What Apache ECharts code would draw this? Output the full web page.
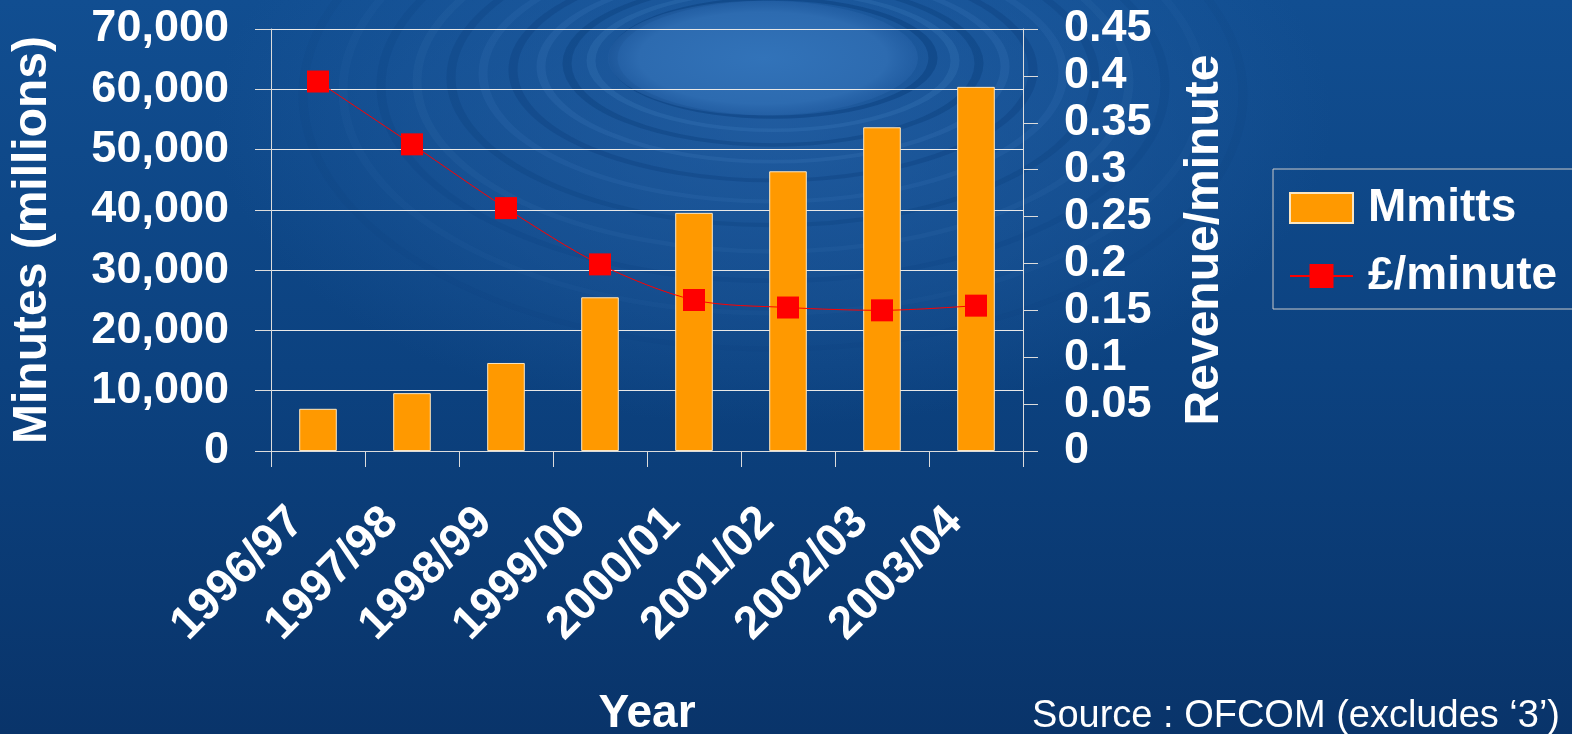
<!DOCTYPE html>
<html>
<head>
<meta charset="utf-8">
<title>Mobile minutes and revenue per minute</title>
<script src="https://cdn.jsdelivr.net/npm/echarts@6/dist/echarts.min.js"></script>
<style>
  html, body { margin: 0; padding: 0; background: #0c3e77; }
  #chart { width: 1572px; height: 734px; }
</style>
</head>
<body>
<div id="chart"></div>
<script>
// Financial years shown on the category axis
const years = ['1996/97', '1997/98', '1998/99', '1999/00', '2000/01', '2001/02', '2002/03', '2003/04'];
// Mobile minutes carried (millions)
const minutes = [7000, 9600, 14600, 25500, 39500, 46400, 53700, 60400];
// Average revenue per minute (£)
const pricePerMinute = [0.394, 0.327, 0.259, 0.199, 0.161, 0.153, 0.150, 0.155];
// Axis ranges
const minutesAxis = { min: 0, max: 70000, interval: 10000 };
const priceAxis = { min: 0, max: 0.45, interval: 0.05 };

const FONT = '"Liberation Sans", Arial, Helvetica, sans-serif';
const WHITE = '#ffffff';
const LINE_GREY = '#dcdcdc';

// Water-ripple backdrop: concentric flattened rings around a bright centre
const rippleCx = 773, rippleCy = 58;
const ringRadii = [160, 182, 206, 232, 260, 290, 322, 356, 392, 430, 470];
const backdrop = [
  {
    type: 'rect', z: -30, silent: true,
    shape: { x: 0, y: 0, width: 1572, height: 734 },
    style: {
      fill: new echarts.graphic.LinearGradient(0, 0, 0, 1, [
        { offset: 0, color: '#114e91' },
        { offset: 0.5, color: '#0c4280' },
        { offset: 1, color: '#09346a' }
      ])
    }
  },
  {
    type: 'circle', z: -29, silent: true,
    shape: { cx: 0, cy: 0, r: 560 },
    x: rippleCx, y: rippleCy + 60, scaleY: 0.55,
    style: {
      fill: new echarts.graphic.RadialGradient(0.5, 0.5, 0.5, [
        { offset: 0, color: 'rgba(45,105,175,0.55)' },
        { offset: 0.6, color: 'rgba(40,100,170,0.3)' },
        { offset: 1, color: 'rgba(40,100,170,0)' }
      ])
    }
  }
];
ringRadii.slice().reverse().forEach(function (r, i) {
  const k = ringRadii.length - 1 - i;
  const ratio = 0.37 + (r - 160) / (470 - 160) * 0.17;
  const dark = k % 2 === 0;
  const fade = 1 - k / (ringRadii.length + 2);
  backdrop.push({
    type: 'circle', z: -28, silent: true,
    shape: { cx: 0, cy: 0, r: r },
    x: rippleCx, y: rippleCy + (r - 160) * 0.12, scaleY: ratio,
    style: {
      fill: 'none',
      stroke: dark ? 'rgba(6,55,115,' + (0.38 * fade).toFixed(3) + ')'
                   : 'rgba(75,135,200,' + (0.22 * fade).toFixed(3) + ')',
      lineWidth: 9,
      strokeNoScale: true
    }
  });
});
backdrop.push({
  type: 'circle', z: -27, silent: true,
  shape: { cx: 0, cy: 0, r: 155 },
  x: rippleCx - 10, y: rippleCy, scaleY: 0.37,
  style: {
    fill: new echarts.graphic.RadialGradient(0.5, 0.5, 0.5, [
      { offset: 0, color: '#3273b9' },
      { offset: 0.8, color: '#2d6bb0' },
      { offset: 1, color: 'rgba(40,100,170,0.5)' }
    ])
  }
});

const chart = echarts.init(document.getElementById('chart'), null, { renderer: 'canvas' });

chart.setOption({
  backgroundColor: 'transparent',
  animation: false,
  textStyle: { fontFamily: FONT },
  graphic: backdrop.concat([
    {
      type: 'text', z: 10,
      style: {
        text: 'Source : OFCOM (excludes \u20183\u2019)',
        x: 1560, y: 717,
        align: 'right', verticalAlign: 'middle',
        font: '38px ' + FONT,
        fill: WHITE
      }
    }
  ]),
  grid: { left: 271, right: 549, top: 29, bottom: 283, containLabel: false, outerBoundsMode: 'none' },
  legend: {
    orient: 'vertical',
    left: 1273, top: 169,
    padding: [16, 90, 10, 16],
    itemGap: 22,
    itemWidth: 63, itemHeight: 30,
    borderColor: '#c9c9c9', borderWidth: 1,
    backgroundColor: 'transparent',
    textStyle: { color: WHITE, fontSize: 46, fontWeight: 'bold', fontFamily: FONT, padding: [0, 0, 0, 10], lineHeight: 46 },
    data: [
      { name: 'Mmitts', icon: 'rect' },
      { name: '£/minute' }
    ]
  },
  xAxis: {
    type: 'category',
    data: years,
    boundaryGap: true,
    name: 'Year',
    nameLocation: 'middle',
    nameGap: 240,
    nameTextStyle: { color: WHITE, fontSize: 46, fontWeight: 'bold', fontFamily: FONT },
    axisLine: { show: true, lineStyle: { color: LINE_GREY, width: 1 } },
    axisTick: { show: true, interval: 0, length: 16, alignWithLabel: false, lineStyle: { color: LINE_GREY } },
    axisLabel: {
      interval: 0, rotate: 45, margin: 6,
      align: 'right', verticalAlign: 'top',
      padding: [3, 56, 0, 0],
      color: WHITE, fontSize: 46, fontWeight: 'bold', fontFamily: FONT
    },
    splitLine: { show: false }
  },
  yAxis: [
    {
      type: 'value',
      position: 'left',
      min: minutesAxis.min, max: minutesAxis.max, interval: minutesAxis.interval,
      name: 'Minutes (millions)',
      nameLocation: 'middle',
      nameRotate: 90,
      nameGap: 214,
      nameTextStyle: { color: WHITE, fontSize: 48, fontWeight: 'bold', fontFamily: FONT },
      axisLine: { show: true, lineStyle: { color: LINE_GREY, width: 1 } },
      axisTick: { show: true, length: 16, lineStyle: { color: LINE_GREY } },
      axisLabel: { margin: 42, color: WHITE, fontSize: 45, fontWeight: 'bold', fontFamily: FONT },
      splitLine: { show: true, lineStyle: { color: '#e8e8e8', width: 1 } }
    },
    {
      type: 'value',
      position: 'right',
      min: priceAxis.min, max: priceAxis.max, interval: priceAxis.interval,
      name: 'Revenue/minute',
      nameLocation: 'middle',
      nameRotate: 90,
      nameGap: 158,
      nameTextStyle: { color: WHITE, fontSize: 48, fontWeight: 'bold', fontFamily: FONT },
      axisLine: { show: true, lineStyle: { color: LINE_GREY, width: 1 } },
      axisTick: { show: true, length: 15, lineStyle: { color: LINE_GREY } },
      axisLabel: { margin: 41, color: WHITE, fontSize: 45, fontWeight: 'bold', fontFamily: FONT },
      splitLine: { show: false }
    }
  ],
  series: [
    {
      name: 'Mmitts',
      type: 'bar',
      yAxisIndex: 0,
      data: minutes,
      barWidth: '40%',
      itemStyle: { color: '#ff9900', borderColor: '#fbe6c2', borderWidth: 1 },
      z: 2
    },
    {
      name: '£/minute',
      type: 'line',
      yAxisIndex: 1,
      data: pricePerMinute,
      smooth: 0.3,
      symbol: 'rect',
      symbolSize: 22,
      showAllSymbol: true,
      lineStyle: { color: '#ff0000', width: 1 },
      itemStyle: { color: '#ff0000' },
      z: 3
    }
  ]
});
</script>
</body>
</html>
